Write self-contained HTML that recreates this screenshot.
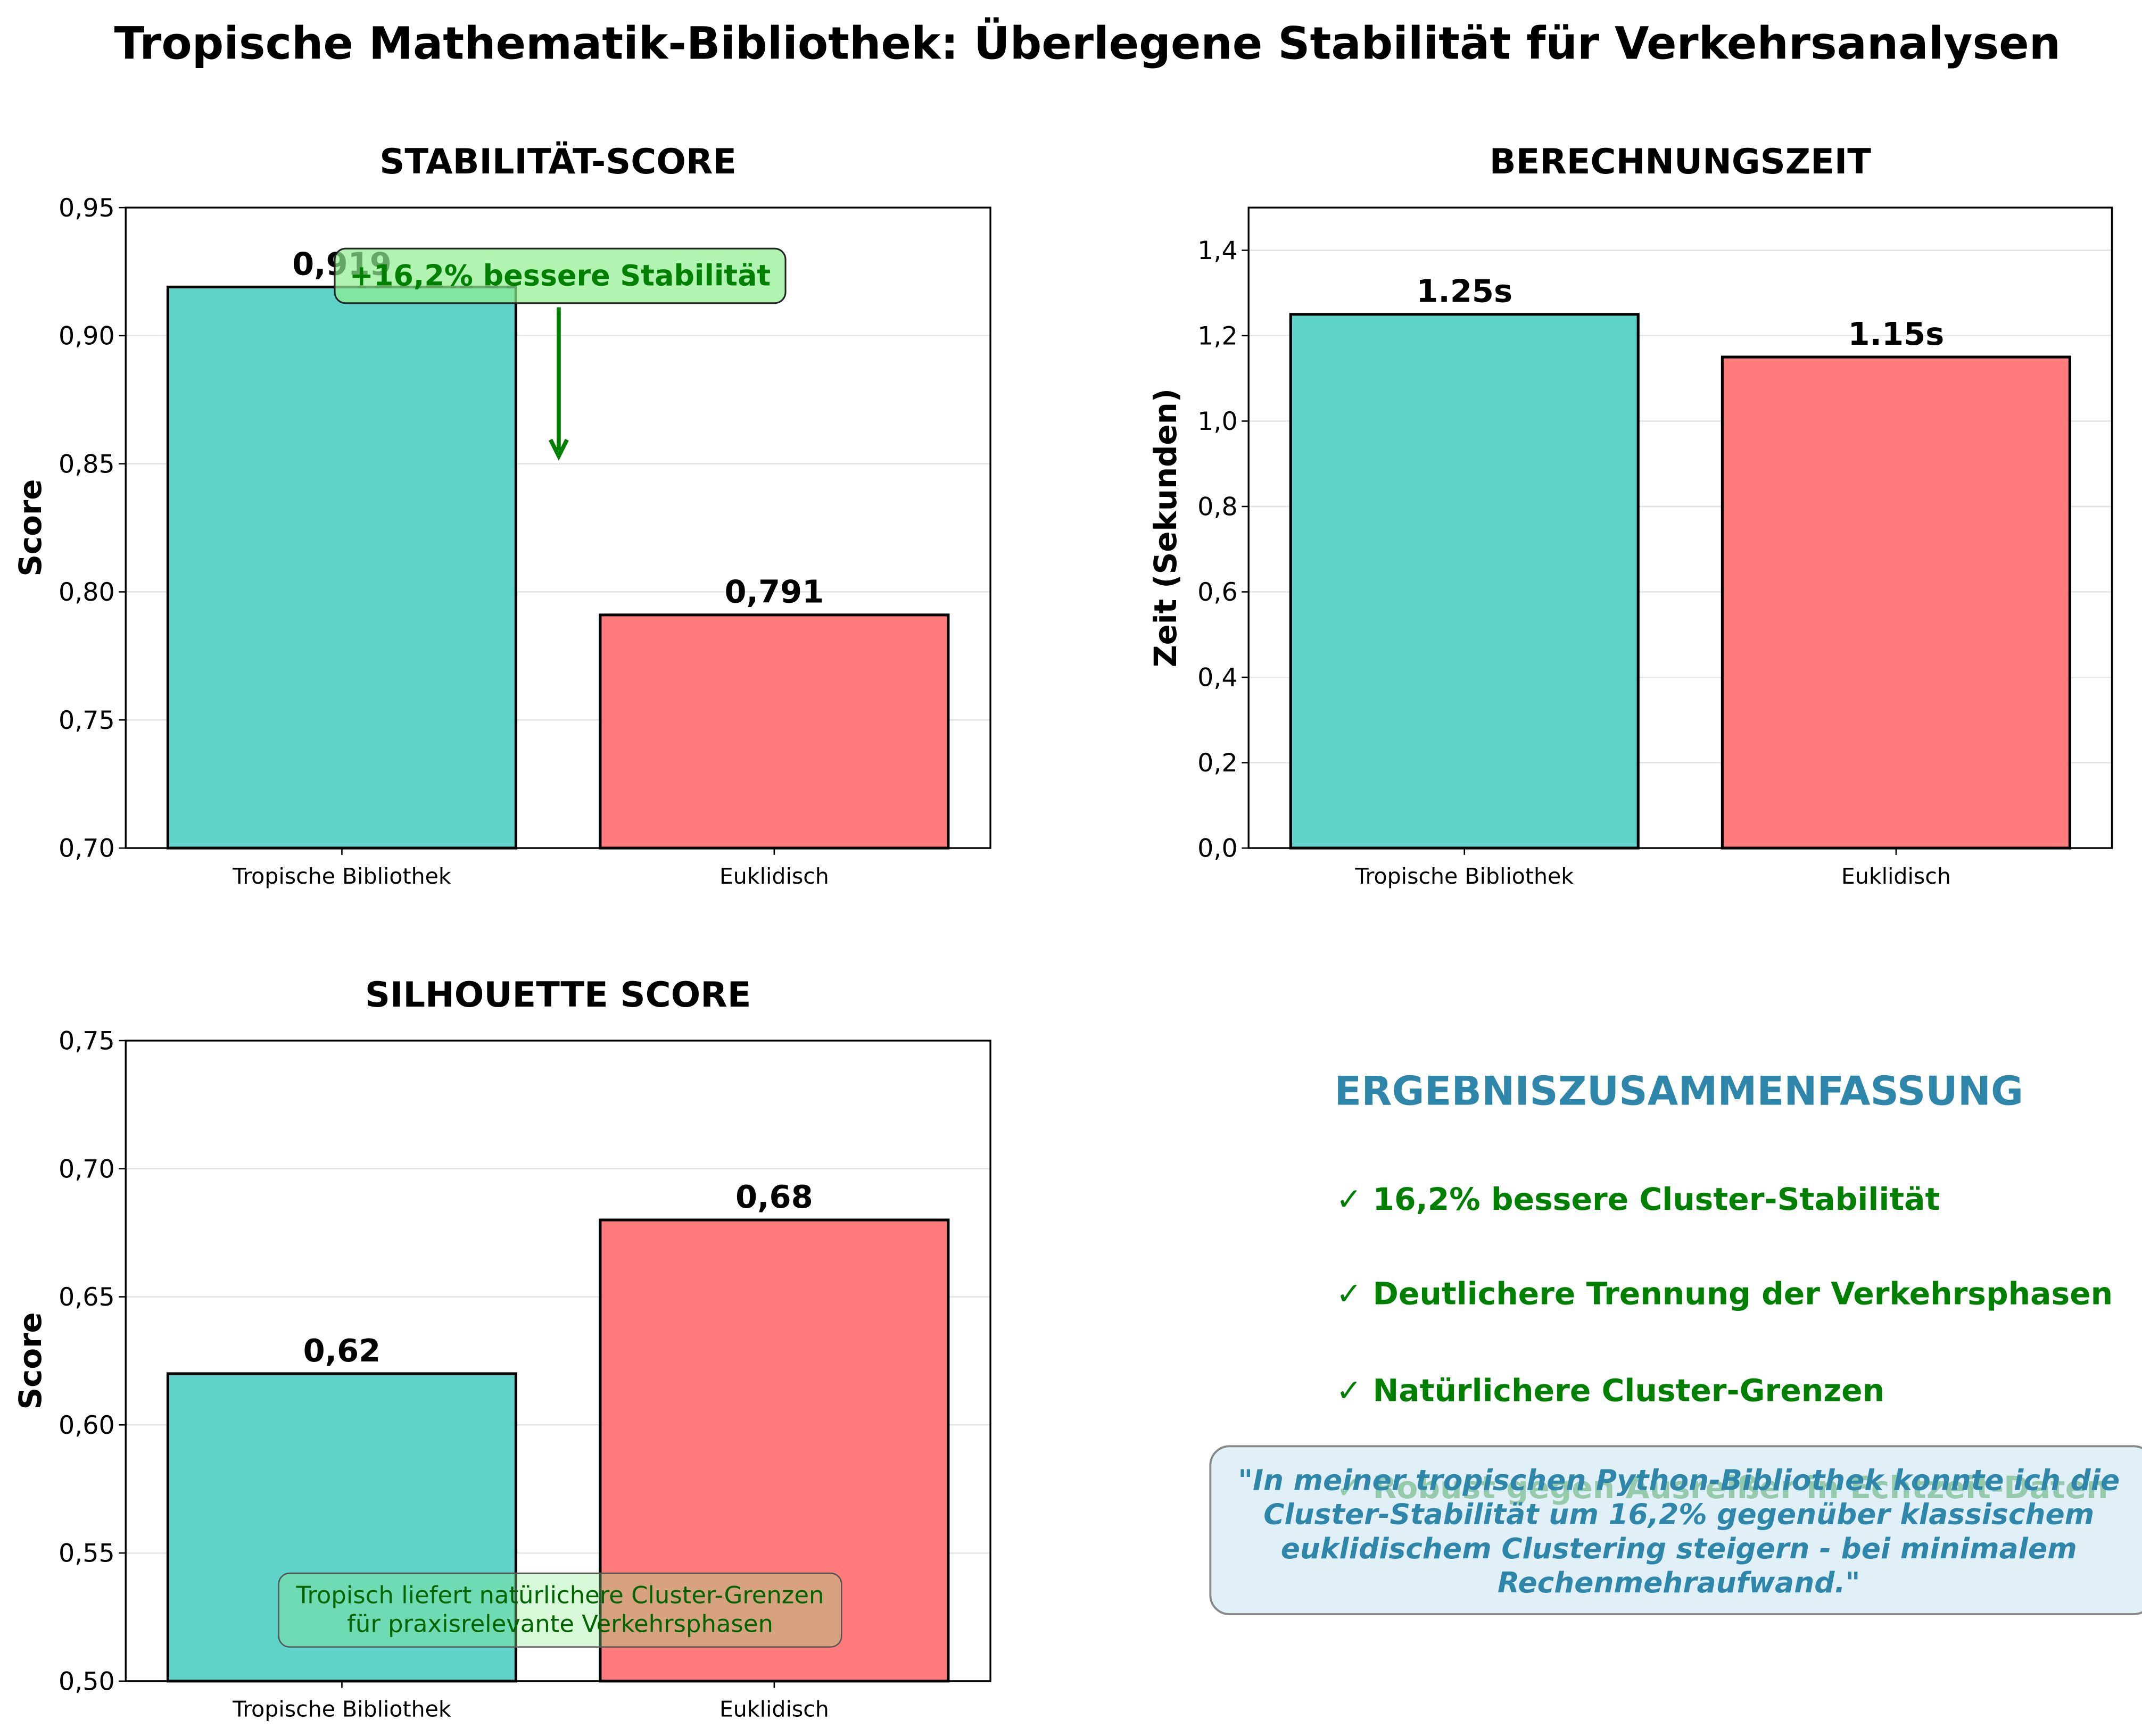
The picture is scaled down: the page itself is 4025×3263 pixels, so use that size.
<!DOCTYPE html>
<html><head><meta charset="utf-8"><style>
html,body{margin:0;padding:0;background:#fff;}
svg{display:block;font-family:"DejaVu Sans","Liberation Sans",sans-serif;}
</style></head><body>
<svg id="chart" width="4025" height="3263" viewBox="0 0 1568 1271.2" xmlns="http://www.w3.org/2000/svg">
<rect width="1568" height="1272" fill="#fff"/>
<text x="796" y="43" text-anchor="middle" font-size="32.5" font-weight="bold">Tropische Mathematik-Bibliothek: Überlegene Stabilität für Verkehrsanalysen</text>
<g id="p1"></g><g id="p2"></g><g id="p3"></g>
<g id="summary">
<text x="1229" y="809" text-anchor="middle" font-size="29" font-weight="bold" fill="#2e86ab">ERGEBNISZUSAMMENFASSUNG</text>
<text x="978" y="886" font-size="22.7" font-weight="bold" fill="#008000">✓ 16,2% bessere Cluster-Stabilität</text>
<text x="978" y="955" font-size="22.7" font-weight="bold" fill="#008000">✓ Deutlichere Trennung der Verkehrsphasen</text>
<text x="978" y="1026" font-size="22.7" font-weight="bold" fill="#008000">✓ Natürlichere Cluster-Grenzen</text>
<text x="978" y="1097" font-size="22.7" font-weight="bold" fill="#008000">✓ Robust gegen Ausreißer in Echtzeit-Daten</text>
<rect x="886" y="1059" width="690" height="123" rx="14" fill="#d4e9f3" fill-opacity="0.7" stroke="#888" stroke-width="1.5"/>
<g font-size="20.8" font-weight="bold" font-style="italic" fill="#2e86ab" text-anchor="middle">
<text x="1229" y="1091">"In meiner tropischen Python-Bibliothek konnte ich die</text>
<text x="1229" y="1116">Cluster-Stabilität um 16,2% gegenüber klassischem</text>
<text x="1229" y="1141">euklidischem Clustering steigern - bei minimalem</text>
<text x="1229" y="1166">Rechenmehraufwand."</text>
</g>
</g>
</svg>
<script>
const categories = ["Tropische Bibliothek", "Euklidisch"];
const stabilityValues = [0.919, 0.791];
const stabilityLabels = ["0,919", "0,791"];
const timeValues = [1.25, 1.15];
const timeLabels = ["1.25s", "1.15s"];
const silhouetteValues = [0.62, 0.68];
const silhouetteLabels = ["0,62", "0,68"];
const stabilityTicks = [0.70, 0.75, 0.80, 0.85, 0.90, 0.95];
const timeTicks = [0, 0.2, 0.4, 0.6, 0.8, 1.0, 1.2, 1.4];
const silhouetteTicks = [0.50, 0.55, 0.60, 0.65, 0.70, 0.75];
const colors = ["#4ecdc4", "#ff6b6b"];
const NS = "http://www.w3.org/2000/svg";
function mk(parent, tag, attrs, text) {
  const e = document.createElementNS(NS, tag);
  for (const k in attrs) e.setAttribute(k, attrs[k]);
  if (text !== undefined) e.textContent = text;
  parent.appendChild(e);
  return e;
}
function fmt(v, d) { return v.toFixed(d).replace('.', ','); }
function panel(gid, box, ymin, ymax, ticks, tdec, vals, labels, title, ylabel, key) {
  const g = document.getElementById(gid);
  
  
  const {x0, x1, y0, y1} = box;
  const sy = v => y1 - (v - ymin) / (ymax - ymin) * (y1 - y0);
  const sx = i => x0 + (i + 0.5) / 2 * (x1 - x0);
  const bw = 0.805 * (x1 - x0) / 2;
  for (const t of ticks) {
    const gl = mk(g, 'line', {x1: x0, x2: x1, y1: sy(t), y2: sy(t), stroke: '#e3e3e3', 'stroke-width': 1});
    
    
    const tk = mk(g, 'line', {x1: x0 - 5, x2: x0, y1: sy(t), y2: sy(t), stroke: '#000', 'stroke-width': 1});
    
    
    const tl = mk(g, 'text', {x: x0 - 8, y: sy(t) + 6.5, 'text-anchor': 'end', 'font-size': 18.5}, fmt(t, tdec));
    
    
  }
  vals.forEach((v, i) => {
    const top = sy(v);
    const b = mk(g, 'rect', {x: sx(i) - bw / 2, y: top, width: bw, height: y1 - top, fill: colors[i], 'fill-opacity': 0.9, stroke: '#000', 'stroke-width': 2});
    
    
    const l = mk(g, 'text', {x: sx(i), y: top - 9, 'text-anchor': 'middle', 'font-size': 23, 'font-weight': 'bold'}, labels[i]);
    
    
    const tk = mk(g, 'line', {x1: sx(i), x2: sx(i), y1: y1, y2: y1 + 5, stroke: '#000', 'stroke-width': 1});
    
    
    const xl = mk(g, 'text', {x: sx(i), y: y1 + 26, 'text-anchor': 'middle', 'font-size': 16}, categories[i]);
    
    
  });
  const fr = mk(g, 'rect', {x: x0, y: y0, width: x1 - x0, height: y1 - y0, fill: 'none', stroke: '#000', 'stroke-width': 1.3});
  
  
  const t = mk(g, 'text', {x: (x0 + x1) / 2, y: y0 - 25, 'text-anchor': 'middle', 'font-size': 25.5, 'font-weight': 'bold'}, title);
  
  
  const yl = mk(g, 'text', {x: 0, y: 0, 'text-anchor': 'middle', 'font-size': 22.5, 'font-weight': 'bold', transform: `translate(${ylabel[1]},${(y0 + y1) / 2}) rotate(-90)`}, ylabel[0]);
  
  
  return {g, sx, sy};
}
const a = panel('p1', {x0: 92, x1: 725, y0: 152, y1: 621}, 0.70, 0.95, stabilityTicks, 2, stabilityValues, stabilityLabels, 'STABILITÄT-SCORE', ['Score', 30], 'stability');
const ann = mk(a.g, 'g', {});


mk(ann, 'line', {x1: 409, y1: 225, x2: 409, y2: 330, stroke: '#008000', 'stroke-width': 3});
mk(ann, 'path', {d: 'M403,322 L409,334 L415,322', fill: 'none', stroke: '#008000', 'stroke-width': 3});
mk(ann, 'rect', {x: 245, y: 182, width: 330, height: 40, rx: 8, fill: '#90ee90', 'fill-opacity': 0.7, stroke: '#222', 'stroke-width': 1.2});
mk(ann, 'text', {x: 410, y: 209, 'text-anchor': 'middle', 'font-size': 21, 'font-weight': 'bold', fill: '#008000'}, '+16,2% bessere Stabilität');
panel('p2', {x0: 914, x1: 1546, y0: 152, y1: 621}, 0, 1.5, timeTicks, 1, timeValues, timeLabels, 'BERECHNUNGSZEIT', ['Zeit (Sekunden)', 861], 'time');
const c = panel('p3', {x0: 92, x1: 725, y0: 762, y1: 1231}, 0.50, 0.75, silhouetteTicks, 2, silhouetteValues, silhouetteLabels, 'SILHOUETTE SCORE', ['Score', 30], 'silhouette');
const note = mk(c.g, 'g', {});


mk(note, 'rect', {x: 204, y: 1152, width: 412, height: 54, rx: 8, fill: '#90ee90', 'fill-opacity': 0.35, stroke: '#555', 'stroke-width': 1});
mk(note, 'text', {x: 410, y: 1174, 'text-anchor': 'middle', 'font-size': 17.5, fill: '#006400'}, 'Tropisch liefert natürlichere Cluster-Grenzen');
mk(note, 'text', {x: 410, y: 1195, 'text-anchor': 'middle', 'font-size': 17.5, fill: '#006400'}, 'für praxisrelevante Verkehrsphasen');
</script>
</body></html>
